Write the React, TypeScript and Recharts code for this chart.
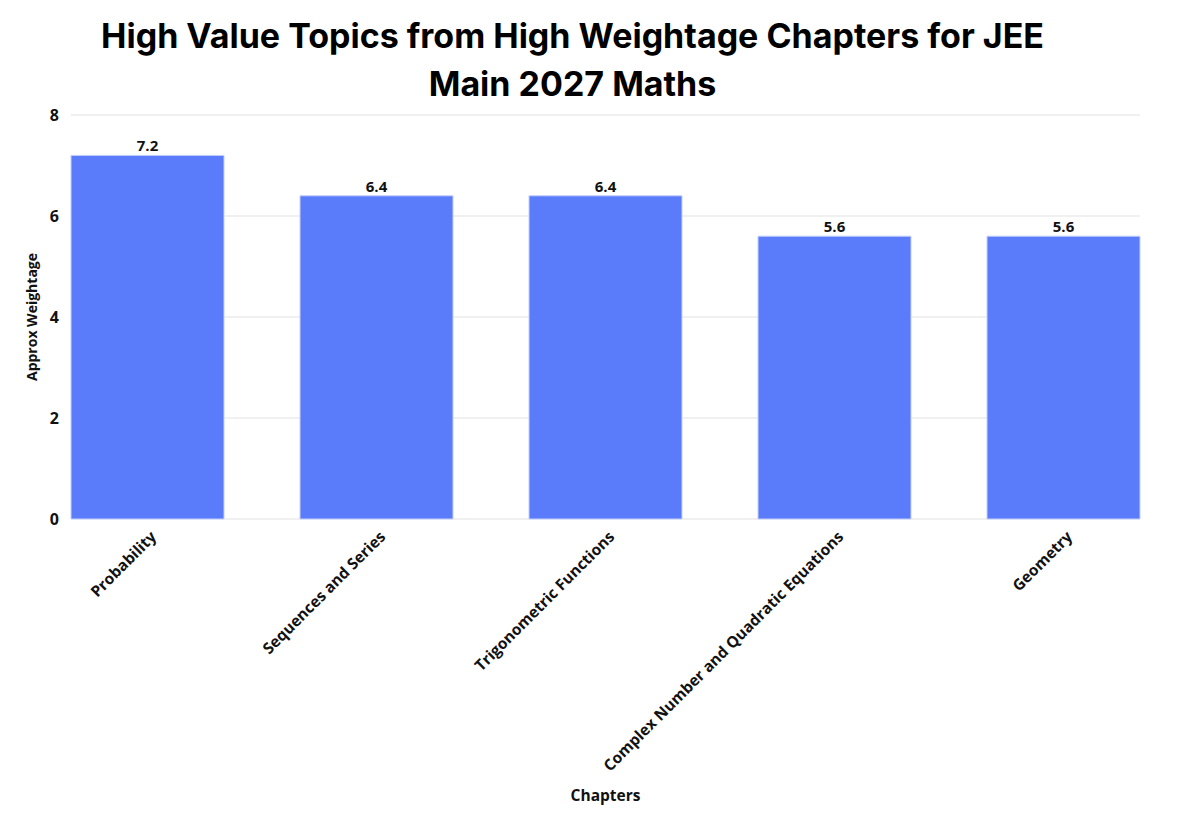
import React from 'react';
import { BarChart, Bar, XAxis, YAxis, CartesianGrid, LabelList } from 'recharts';

const chapters = [
  'Probability',
  'Sequences and Series',
  'Trigonometric Functions',
  'Complex Number and Quadratic Equations',
  'Geometry',
];
const weightage = [7.2, 6.4, 6.4, 5.6, 5.6];
const yTicks = [0, 2, 4, 6, 8];

const data = chapters.map((name, i) => ({ name, value: weightage[i] }));

const tickFont = "'Open Sans', 'Noto Sans', sans-serif";

function ChapterTick(props: any) {
  const { x, y, payload } = props;
  return (
    <g transform={`translate(${x + 6},${y + 7})`}>
      <text
        transform="rotate(-45)"
        textAnchor="end"
        dy="0.35em"
        fill="#111"
        fontSize={15.5}
        fontWeight={700}
        fontFamily={tickFont}
      >
        {payload.value}
      </text>
    </g>
  );
}

export default function App() {
  return (
    <div style={{ position: 'absolute', left: 0, top: 0, width: 1200, height: 817, background: '#fff' }}>
      <div
        style={{
          position: 'absolute',
          left: 0,
          top: 12,
          width: 1145,
          textAlign: 'center',
          fontFamily: "Inter, 'Noto Sans', sans-serif",
          fontWeight: 700,
          fontSize: 34,
          lineHeight: '48px',
          color: '#000',
        }}
      >
        High Value Topics from High Weightage Chapters for JEE
        <br />
        Main 2027 Maths
      </div>
      <BarChart
        width={1200}
        height={817}
        data={data}
        margin={{ top: 115, right: 60, bottom: 13, left: 0 }}
      >
        <CartesianGrid vertical={false} stroke="#ebebeb" strokeWidth={1.5} />
        <XAxis
          dataKey="name"
          interval={0}
          height={285}
          padding={{ left: -38, right: -38 }}
          axisLine={false}
          tickLine={false}
          tick={<ChapterTick />}
          label={{
            value: 'Chapters',
            position: 'insideBottom',
            offset: 3,
            style: { fontFamily: tickFont, fontWeight: 700, fontSize: 15.5, fill: '#111' },
          }}
        />
        <YAxis
          width={71}
          domain={[0, 8]}
          ticks={yTicks}
          axisLine={false}
          tickLine={false}
          tickSize={0}
          tickMargin={12}
          tick={{ fill: '#111', fontSize: 16, fontWeight: 700, fontFamily: tickFont }}
          label={{
            value: 'Approx Weightage',
            angle: -90,
            position: 'insideLeft',
            offset: 32,
            style: { textAnchor: 'middle', fontFamily: tickFont, fontWeight: 700, fontSize: 14, fill: '#111' },
          }}
        />
        <Bar dataKey="value" fill="#5a7cfa" stroke="#c3cffc" strokeWidth={1} barSize={153} isAnimationActive={false}>
          <LabelList
            dataKey="value"
            position="top"
            offset={4}
            fill="#111"
            fontSize={15}
            fontWeight={700}
            fontFamily={tickFont}
          />
        </Bar>
      </BarChart>
    </div>
  );
}
